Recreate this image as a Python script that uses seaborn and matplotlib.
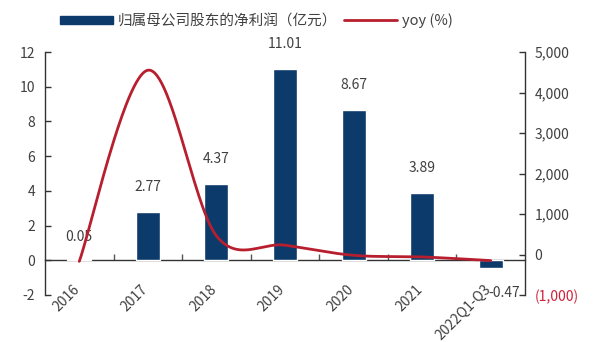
import numpy as np
import pandas as pd
import seaborn as sns
import matplotlib
matplotlib.use("Agg")
import matplotlib.pyplot as plt
from matplotlib.lines import Line2D
from matplotlib.patches import Patch
from matplotlib.ticker import FixedLocator, FuncFormatter
from matplotlib.transforms import offset_copy

# ---- data ----
periods = ["2016", "2017", "2018", "2019", "2020", "2021", "2022Q1-Q3"]
net_profit = [0.05, 2.77, 4.37, 11.01, 8.67, 3.89, -0.47]      # 亿元
yoy_pct = [-170, 4550, 460, 230, -20, -60, -150]                # %
bar_label_name = "归属母公司股东的净利润（亿元）"
line_label_name = "yoy (%)"

BAR_COLOR = "#0B3A6B"
LINE_COLOR = "#B81F2E"
TEXT_COLOR = "#404040"
FS = 10

sns.set_theme(style="white")
plt.rcParams["font.family"] = ["Noto Sans CJK SC", "DejaVu Sans"]
plt.rcParams["axes.unicode_minus"] = False

df = pd.DataFrame({"period": periods, "profit": net_profit})

fig = plt.figure(figsize=(5.98, 3.42), dpi=100)
ax = fig.add_axes([45 / 598, 1 - 295 / 342, 480 / 598, 243 / 342])

sns.barplot(data=df, x="period", y="profit", color=BAR_COLOR, width=0.35,
            saturation=1, ax=ax, zorder=2)
ax.set_xlim(-0.5, len(periods) - 0.5)
ax.set_ylim(-2, 12)
ax.set_xlabel("")
ax.set_ylabel("")
ax.set_yticks(np.arange(-2, 13, 2))

# spines: left axis and a category axis running along zero
for s in ["top", "right"]:
    ax.spines[s].set_visible(False)
ax.spines["left"].set_color("#333333")
ax.spines["left"].set_linewidth(1.0)
ax.spines["bottom"].set_position(("data", 0))
ax.spines["bottom"].set_color("#333333")
ax.spines["bottom"].set_linewidth(1.0)
ax.spines["bottom"].set_zorder(1)

ax.tick_params(axis="y", direction="in", length=4, width=1, color="#333333",
               labelsize=FS, labelcolor=TEXT_COLOR, pad=7, left=True)
ax.tick_params(axis="x", which="major", length=0, labelsize=FS,
               labelcolor=TEXT_COLOR, pad=16)
ax.xaxis.set_minor_locator(FixedLocator(np.arange(0.5, len(periods) - 0.5, 1)))
ax.tick_params(axis="x", which="minor", direction="in", length=4, width=1,
               color="#555555", bottom=True)
ax.set_xticks(range(len(periods)))
ax.set_xticklabels(periods, rotation=45, ha="right", va="top",
                   rotation_mode="anchor")
for lab in ax.get_xticklabels():
    lab.set_transform(offset_copy(lab.get_transform(), fig=fig, x=-7, y=0,
                                  units="dots"))

# value labels above / below the bars
label_offsets = [(0, 11), (0, 13), (0, 13), (0, 13), (0, 13), (0, 13), (10, -18)]
for i, (v, off) in enumerate(zip(net_profit, label_offsets)):
    ax.annotate(f"{v:.2f}", xy=(i, v), xytext=off, textcoords="offset points",
                ha="center", va="bottom" if v >= 0 else "center",
                fontsize=FS, color=TEXT_COLOR, zorder=5)

# ---- secondary axis: yoy ----
ax2 = ax.twinx()
ax2.set_ylim(-1000, 5000)
ax2.set_yticks(np.arange(-1000, 5001, 1000))
ax2.yaxis.set_major_formatter(FuncFormatter(
    lambda v, _: f"({abs(v):,.0f})" if v < 0 else f"{v:,.0f}"))
for s in ["top", "left", "bottom"]:
    ax2.spines[s].set_visible(False)
ax2.spines["right"].set_color("#333333")
ax2.spines["right"].set_linewidth(1.0)
ax2.tick_params(axis="y", direction="in", length=4, width=1, color="#333333",
                labelsize=FS, labelcolor=TEXT_COLOR, pad=7, right=True)
for lab, v in zip(ax2.get_yticklabels(), ax2.get_yticks()):
    if v < 0:
        lab.set_color("#D0203A")
ax2.grid(False)
ax.grid(False)

# smoothed yoy curve: cubic Bezier segments built in display space
fig.canvas.draw()
pts = ax2.transData.transform(np.column_stack([np.arange(len(yoy_pct)), yoy_pct]))
n = len(pts)
curve = []
for i in range(n - 1):
    p0 = pts[i - 1] if i > 0 else pts[i]
    p1, p2 = pts[i], pts[i + 1]
    p3 = pts[i + 2] if i + 2 < n else pts[i + 1]
    d12 = np.linalg.norm(p2 - p1)
    d02 = np.linalg.norm(p2 - p0)
    d13 = np.linalg.norm(p3 - p1)
    f1 = min(1 / 6, d12 / (2 * d02)) if d02 > 0 else 0
    f2 = min(1 / 6, d12 / (2 * d13)) if d13 > 0 else 0
    c1 = p1 + f1 * (p2 - p0)
    c2 = p2 - f2 * (p3 - p1)
    t = np.linspace(0, 1, 60)[:, None]
    seg = ((1 - t) ** 3) * p1 + 3 * ((1 - t) ** 2) * t * c1 \
        + 3 * (1 - t) * t ** 2 * c2 + t ** 3 * p2
    curve.append(seg if i == 0 else seg[1:])
curve = ax2.transData.inverted().transform(np.vstack(curve))
ax2.plot(curve[:, 0], curve[:, 1], color=LINE_COLOR, lw=2.0, zorder=3,
         solid_capstyle="round")

# ---- legend ----
handles = [Patch(facecolor=BAR_COLOR, edgecolor=BAR_COLOR),
           Line2D([0], [0], color=LINE_COLOR, lw=2.0)]
fig.legend(handles, [bar_label_name, line_label_name], loc="center",
           bbox_to_anchor=(0.429, 0.939), ncol=2, frameon=False, fontsize=10.5,
           handlelength=3.6, handleheight=0.55, columnspacing=0.5,
           handletextpad=0.35, labelcolor=TEXT_COLOR)

fig.savefig("out.png", dpi=100)
